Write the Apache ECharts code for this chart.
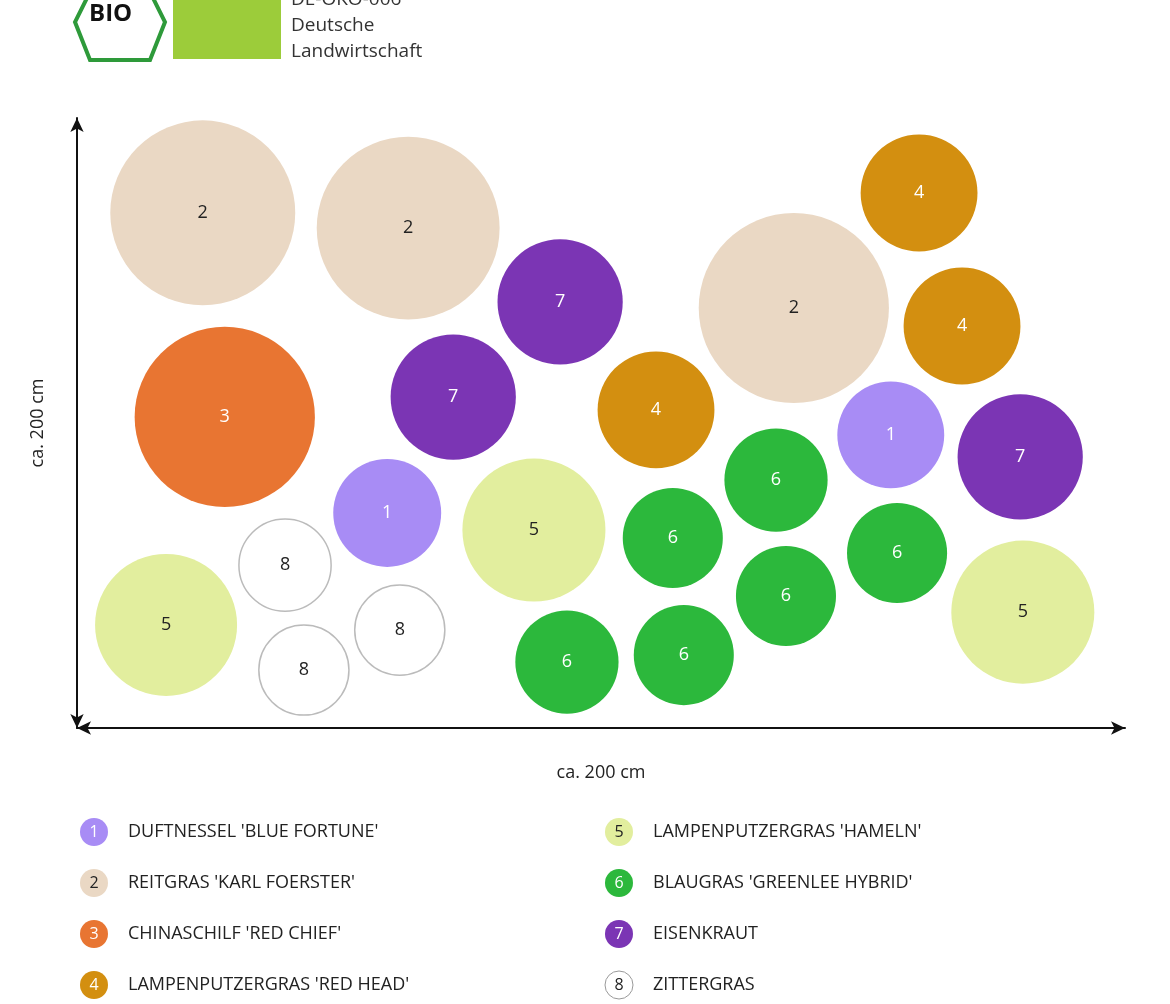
<!DOCTYPE html>
<html><head><meta charset="utf-8">
<script src="https://cdn.jsdelivr.net/npm/echarts@6/dist/echarts.min.js"></script>
<style>html,body{margin:0;padding:0;background:#fff}#c{width:1170px;height:1004px}</style>
</head><body><div id="c"></div>
<script>
const species = ["DUFTNESSEL 'BLUE FORTUNE'","REITGRAS 'KARL FOERSTER'","CHINASCHILF 'RED CHIEF'","LAMPENPUTZERGRAS 'RED HEAD'","LAMPENPUTZERGRAS 'HAMELN'","BLAUGRAS 'GREENLEE HYBRID'","EISENKRAUT","ZITTERGRAS"];
const plantNo = [2,2,7,4,2,4,3,7,4,1,7,6,1,5,6,6,8,5,5,6,8,8,6,6];
const xCm = [24.0,63.2,92.2,160.7,136.8,168.9,28.2,71.8,110.5,155.3,180.0,133.4,59.2,87.2,113.7,156.5,39.7,17.0,180.5,135.3,61.6,43.3,93.5,115.8];
const yCm = [168.9,163.9,139.7,175.4,137.7,131.8,102.0,108.5,104.3,96.1,88.9,81.3,70.5,64.9,62.3,57.4,53.4,33.8,38.0,43.3,32.1,19.0,21.6,23.9];
const spreadCm = [35.3,34.9,23.9,22.3,36.3,22.3,34.4,23.9,22.3,20.4,23.9,19.7,20.6,27.3,19.1,19.1,17.6,27.1,27.3,19.1,17.2,17.2,19.7,19.1];
const colors = ['#a88cf5','#ead8c4','#e87532','#d38f10','#e2ee9e','#2cb83c','#7b35b4','#ffffff'];
const textCol = ['#fff','#222','#fff','#fff','#222','#fff','#fff','#222'];

const W=1170, L=77, R=45, T=118, B=276;
const pxPerCm = (W-L-R)/200;
const chart = echarts.init(document.getElementById('c'));
const data = plantNo.map((n,i)=>({value:[xCm[i],yCm[i]],symbolSize:spreadCm[i]*pxPerCm,
  itemStyle:{color:colors[n-1],opacity:1,borderColor:n===8?'#bbb':colors[n-1],borderWidth:n===8?1.5:0},
  label:{show:true,formatter:String(n),color:textCol[n-1],fontSize:18,fontFamily:'Open Sans'}}));

const graphic=[];
graphic.push({type:'polygon',shape:{points:[[90,-8],[150,-8],[165,22],[150,60],[90,60],[75,22]]},style:{fill:'#fff',stroke:'#2e9a3a',lineWidth:4}});
graphic.push({type:'text',style:{x:89,y:2,text:'BIO',fontSize:24,fontWeight:'bold',fill:'#111',fontFamily:'Open Sans'}});
graphic.push({type:'rect',shape:{x:173,y:-5,width:108,height:64},style:{fill:'#9ccc3a'}});
['DE-ÖKO-006','Deutsche','Landwirtschaft'].forEach((t,i)=>graphic.push({type:'text',style:{x:291,y:-10+i*26,text:t,fontSize:19,fill:'#333',fontFamily:'Open Sans'}}));
species.forEach((s,i)=>{
  const col=i<4?0:1, row=i%4;
  const cx=col?619:94, cy=832+row*51;
  graphic.push({type:'circle',shape:{cx:cx,cy:cy,r:14},style:{fill:colors[i],stroke:i===7?'#999':null,lineWidth:1}});
  graphic.push({type:'text',style:{x:cx,y:cy,text:String(i+1),align:'center',verticalAlign:'middle',fontSize:16,fill:textCol[i],fontFamily:'Open Sans'}});
  graphic.push({type:'text',style:{x:cx+34,y:cy,text:s,verticalAlign:'middle',fontSize:18,fill:'#222',fontFamily:'Open Sans'}});
});

chart.setOption({
  animation:false,
  grid:{left:L,right:R,top:T,bottom:B},
  xAxis:{type:'value',min:0,max:200,name:'ca. 200 cm',nameLocation:'middle',nameGap:36,
    nameTextStyle:{fontSize:18,color:'#222',fontFamily:'Open Sans'},
    axisLine:{lineStyle:{color:'#111',width:2},symbol:['arrow','arrow'],symbolSize:[10,14]},
    axisTick:{show:false},axisLabel:{show:false},splitLine:{show:false}},
  yAxis:{type:'value',min:0,max:200,name:'ca. 200 cm',nameLocation:'middle',nameGap:30,
    nameTextStyle:{fontSize:18,color:'#222',fontFamily:'Open Sans'},
    axisLine:{show:true,lineStyle:{color:'#111',width:2},symbol:['arrow','arrow'],symbolSize:[10,14]},
    axisTick:{show:false},axisLabel:{show:false},splitLine:{show:false}},
  series:[{type:'scatter',data:data,itemStyle:{opacity:1},label:{show:true,position:'inside'}}],
  graphic:graphic
});
</script></body></html>
